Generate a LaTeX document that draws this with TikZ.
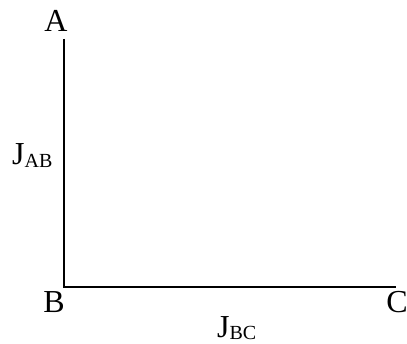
\documentclass[tikz,border=0pt]{standalone}
\usepackage{fontspec}
\setmainfont{Liberation Serif}
\tikzset{
  lbl/.style={inner sep=0pt, font=\fontsize{32}{32}\selectfont},
  edge/.style={line width=2pt, line join=miter}
}
\newcommand{\subtxt}[1]{{\fontsize{20}{20}\selectfont\raisebox{-3pt}{#1}}}
\begin{document}
\begin{tikzpicture}[x=1pt,y=1pt]
\useasboundingbox (0,0) rectangle (407,343);
\coordinate (a) at (64,304);
\coordinate (b) at (64,56);
\coordinate (c) at (396,56);
\draw[edge] (a) -- (b) -- (c);
\node[lbl, anchor=base] (A) at (56,311) {A};
\node[lbl, anchor=base] (B) at (54,31) {B};
\node[lbl, anchor=base] (C) at (397,31) {C};
\node[lbl, anchor=base west] (JAB) at (12,178) {J\subtxt{AB}};
\node[lbl, anchor=base west] (JBC) at (217,6) {J\subtxt{BC}};
\end{tikzpicture}
\end{document}
